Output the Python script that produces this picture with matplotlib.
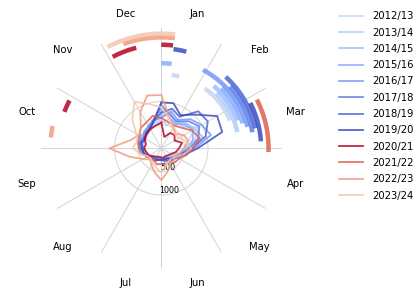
import numpy as np
import matplotlib
matplotlib.use("Agg")
import matplotlib.pyplot as plt

# seasons and their colours (coolwarm: blue = pre-2020, red = after)
seasons = ["2012/13", "2013/14", "2014/15", "2015/16", "2016/17", "2017/18",
           "2018/19", "2019/20", "2020/21", "2021/22", "2022/23", "2023/24"]
months = ["Jan", "Feb", "Mar", "Apr", "May", "Jun",
          "Jul", "Aug", "Sep", "Oct", "Nov", "Dec"]

# sample angles (degrees clockwise from 1 Jan)
angles = np.arange(0, 360, 15)

# values per season at each angle
values = [
    [550, 650, 600, 700, 800, 600, 500, 380, 300, 230, 200, 180, 200, 170, 200, 250, 280, 350, 400, 380, 450, 420, 470, 500],
    [600, 520, 700, 650, 900, 750, 520, 420, 280, 260, 220, 200, 180, 210, 250, 230, 300, 330, 380, 400, 370, 450, 480, 560],
    [700, 780, 620, 760, 820, 920, 580, 460, 340, 310, 240, 260, 230, 250, 230, 300, 330, 420, 450, 420, 400, 460, 520, 600],
    [820, 680, 600, 720, 780, 700, 560, 430, 360, 290, 260, 240, 260, 240, 300, 280, 350, 380, 420, 450, 520, 480, 560, 650],
    [650, 820, 700, 880, 1000, 1100, 720, 480, 420, 300, 310, 240, 260, 230, 260, 300, 330, 420, 430, 500, 440, 520, 540, 620],
    [920, 740, 660, 820, 940, 820, 600, 520, 380, 360, 290, 300, 240, 260, 300, 280, 360, 380, 460, 480, 460, 430, 520, 600],
    [760, 880, 780, 1120, 1150, 980, 660, 440, 370, 280, 310, 240, 260, 250, 240, 310, 340, 410, 380, 460, 400, 470, 490, 620],
    [980, 1000, 820, 1020, 1380, 1350, 780, 520, 340, 320, 240, 260, 240, 260, 300, 290, 360, 390, 420, 440, 400, 460, 480, 620],
    [550, 250, 380, 400, 330, 460, 380, 320, 240, 210, 190, 210, 200, 190, 210, 240, 310, 330, 370, 340, 420, 440, 470, 500],
    [650, 580, 560, 620, 760, 850, 680, 560, 440, 420, 340, 360, 330, 360, 300, 310, 340, 460, 480, 520, 540, 620, 640, 720],
    [1140, 680, 520, 440, 560, 600, 480, 420, 330, 370, 380, 520, 680, 540, 420, 340, 460, 700, 1110, 680, 560, 620, 900, 1170],
    [880, 660, 480, 420, 440, 560, 640, 500, 360, 300, 320, 380, 520, 430, 360, 310, 340, 460, 620, 540, 620, 880, 1150, 980],
]

# peak periods per season (start, end in degrees)
peaks = [
    [(8, 14), (36, 68)],
    [(45, 78)],
    [(40, 70)],
    [(0, 7), (45, 73)],
    [(28, 76)],
    [(48, 80)],
    [(42, 78)],
    [(7, 14.5), (63, 86)],
    [(290.6, 297.5), (332, 346), (0, 6.5)],
    [(63, 92)],
    [(275.6, 281.6), (340, 367)],
    [(332, 367)],
]

cmap = plt.get_cmap("coolwarm")
colors = [cmap(v) for v in np.linspace(0.42, 0.0, 8)] + \
         [cmap(v) for v in np.linspace(1.0, 0.62, 4)]

fig = plt.figure(figsize=(419 / 72, 291 / 72), dpi=72)
ax = fig.add_axes([0.0979, 0.077, 0.5742, 0.8268], projection="polar")
ax.set_theta_zero_location("N")
ax.set_theta_direction(-1)

th = np.deg2rad(np.append(angles, 360))
for i, s in enumerate(seasons):
    r = values[i] + values[i][:1]
    ax.plot(th, r, color=colors[i], lw=1.8, alpha=0.85, label=s)

# peak arcs outside the curves
for i, s in enumerate(seasons):
    rad = 1585 + 79 * i
    for t0, t1 in peaks[i]:
        t = np.deg2rad(np.linspace(t0, t1, 40))
        ax.plot(t, np.full_like(t, rad), color=colors[i], lw=4.5,
                alpha=0.85, solid_capstyle="butt")

ax.set_ylim(0, 2576)
ax.set_xticks(np.deg2rad(np.arange(0, 360, 30)))
ax.set_xticklabels([])
ax.set_rticks([500, 1000])
ax.set_rlabel_position(183)
ax.tick_params(axis="y", labelsize=8)
ax.grid(color="#d4d4d4", lw=1)
ax.spines["polar"].set_visible(False)

for k, m in enumerate(months):
    ax.text(np.deg2rad(15 + 30 * k), 2976, m, ha="center", va="center",
            fontsize=10, clip_on=False)

ax.legend(loc="upper left", bbox_to_anchor=(0.7995, 0.975),
          bbox_transform=fig.transFigure, frameon=False, fontsize=10,
          handlelength=2.4, handletextpad=0.9, labelspacing=0.63,
          borderaxespad=0)

fig.savefig("out.png", dpi=72)
